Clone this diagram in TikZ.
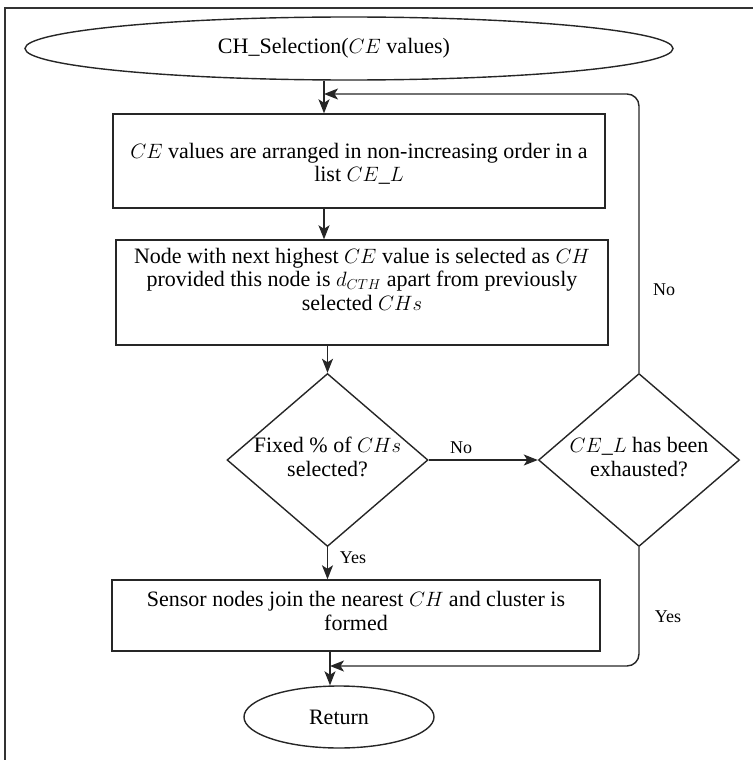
\documentclass[tikz,border=0pt]{standalone}
\usepackage{fontspec}
\setmainfont{Liberation Serif}
\usetikzlibrary{shapes.geometric,arrows.meta}
\begin{document}
\begin{tikzpicture}[x=1pt,y=-1pt,
  maintxt/.style={font=\fontsize{22}{23.5}\selectfont, align=center, inner sep=0pt},
  lbl/.style={font=\fontsize{18}{19}\selectfont, inner sep=0pt},
  shapeline/.style={draw=black!85, line width=1.4pt},
  procbox/.style={shapeline, rectangle, inner sep=0pt},
  decision/.style={shapeline, diamond, inner sep=0pt, minimum width=201pt, minimum height=173pt},
  term/.style={shapeline, ellipse, inner sep=0pt},
  flow/.style={draw=black!85, line width=1.4pt},
  arr/.style={flow, -{Stealth[length=14pt,width=11pt,inset=3.5pt]}}]
\useasboundingbox (0,0) rectangle (753,760);
% frame (top and left edges only)
\draw[black!80, line width=1.6pt] (5,760) -- (5,8) -- (753,8);

% nodes
\node[term, minimum width=648pt, minimum height=63pt] (start) at (349,48.5) {};
\node[maintxt] (startt) at (334,48.5) {CH\_Selection($CE$ values)};

\node[procbox, minimum width=492pt, minimum height=94pt] (box1) at (359,161) {};
\node[maintxt] (box1t) at (359,164) {$CE$ values are arranged in non-increasing order in a\\ list $CE\_L$};

\node[procbox, minimum width=492pt, minimum height=105pt] (box2) at (362,292.5) {};
\node[maintxt] (box2t) at (362,279) {Node with next highest $CE$ value is selected as $CH$\\ provided this node is $d_{CTH}$ apart from previously\\ selected $CHs$};

\node[decision] (ld) at (327.5,460) {};
\node[maintxt] (ldt) at (327.5,457) {Fixed \% of $CHs$\\ selected?};

\node[decision] (rd) at (639,460) {};
\node[maintxt] (rdt) at (639,457) {$CE\_L$ has been\\ exhausted?};

\node[procbox, minimum width=488pt, minimum height=71pt] (box3) at (356,615.5) {};
\node[maintxt] (box3t) at (356,611) {Sensor nodes join the nearest $CH$ and cluster is\\ formed};

\node[term, minimum width=190pt, minimum height=62pt] (ret) at (339,717) {};
\node[maintxt] (rett) at (339,717) {Return};

% helper coordinates
\coordinate (c1) at (324,94);
\coordinate (c2) at (330,666);

% connectors
\draw[arr] (start.south -| c1) -- (box1.north -| c1);
\draw[arr] (rd.north) -- (rd.north |- 0,106) to[out=90,in=0] (627,94) -- (c1);
\draw[arr] (box1.south -| c1) -- (box2.north -| c1);
\draw[arr] (box2.south -| ld.north) -- (ld.north);
\draw[arr] (ld.east) -- (rd.west);
\draw[arr] (ld.south) -- (ld.south |- box3.north);
\draw[arr] (rd.south) -- (rd.south |- 0,654) to[out=-90,in=0] (627,666) -- (c2);
\draw[arr] (box3.south -| c2) -- (ret.north -| c2);

% labels
\node[lbl] (lno1) at (461,448) {No};
\node[lbl] (lyes1) at (353,558) {Yes};
\node[lbl] (lno2) at (664,290) {No};
\node[lbl] (lyes2) at (668,617) {Yes};
\end{tikzpicture}
\end{document}
